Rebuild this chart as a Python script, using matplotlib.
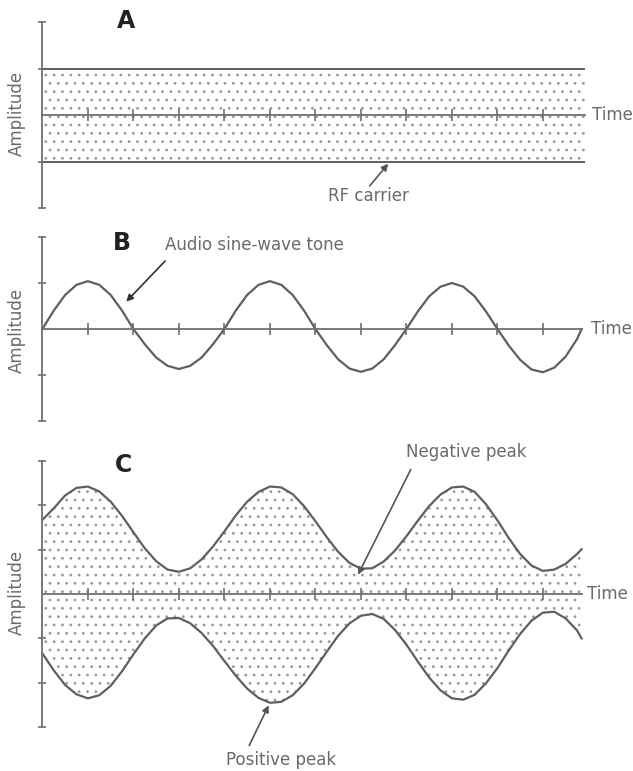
import numpy as np
import matplotlib
matplotlib.use("Agg")
import matplotlib.pyplot as plt

t = np.append(np.arange(0.0, 12.0, 0.25), 11.85)
time_ticks = list(range(1, 12))

# A - unmodulated RF carrier
carrier_level = 1.0
carrier_end = 11.93

# B - audio sine-wave tone
tone = [0.00, 0.40, 0.74, 0.96, 1.04, 0.96, 0.74, 0.40,
        0.00, -0.33, -0.62, -0.80, -0.87, -0.80, -0.62, -0.33,
        0.00, 0.40, 0.74, 0.96, 1.04, 0.96, 0.74, 0.40,
        0.00, -0.35, -0.66, -0.86, -0.93, -0.86, -0.66, -0.35,
        0.00, 0.38, 0.71, 0.92, 1.00, 0.92, 0.71, 0.38,
        0.00, -0.36, -0.67, -0.88, -0.94, -0.84, -0.60, -0.22, 0.00]

# C - modulated carrier, upper and lower envelope
env_upper = [1.67, 1.93, 2.22, 2.39, 2.42, 2.31, 2.08, 1.76, 1.39, 1.03, 0.74, 0.55,
             0.50, 0.58, 0.78, 1.07, 1.41, 1.77, 2.08, 2.30, 2.42, 2.40, 2.25, 1.98,
             1.64, 1.28, 0.95, 0.70, 0.57, 0.58, 0.73, 0.98, 1.30, 1.65, 1.98, 2.24,
             2.40, 2.42, 2.30, 2.02, 1.66, 1.26, 0.90, 0.64, 0.52, 0.55, 0.68, 0.90, 1.01]
env_lower = [-1.34, -1.72, -2.05, -2.26, -2.35, -2.28, -2.07, -1.74, -1.36, -1.00, -0.71, -0.55,
             -0.54, -0.66, -0.88, -1.17, -1.51, -1.84, -2.13, -2.34, -2.45, -2.43, -2.28, -2.02,
             -1.67, -1.30, -0.94, -0.66, -0.49, -0.45, -0.56, -0.81, -1.14, -1.52, -1.88, -2.17,
             -2.35, -2.38, -2.27, -2.01, -1.67, -1.27, -0.90, -0.60, -0.42, -0.40, -0.55, -0.82, -1.00]

W, H = 633, 771
X0, XU = 42.4, 45.5          # pixel of t=0 and pixels per tick
LINE = '#5f5f5f'
AXC = '#707070'
TXT = '#6a6a6a'
DOT = '#9a9a9a'

plt.rcParams['font.family'] = 'DejaVu Sans'
plt.rcParams['hatch.color'] = DOT
plt.rcParams['hatch.linewidth'] = 0.8

fig = plt.figure(figsize=(W / 100, H / 100), dpi=100)


def panel(top, bottom, zero, unit, yticks, ybound, xend):
    ax = fig.add_axes([0, 1 - bottom / H, 1, (bottom - top) / H])
    ax.patch.set_visible(False)
    ax.set_xlim(-X0 / XU, (W - X0) / XU)
    ax.set_ylim(-(bottom - zero) / unit, (zero - top) / unit)
    ax.spines['top'].set_visible(False)
    ax.spines['right'].set_visible(False)
    ax.spines['left'].set_position(('data', 0))
    ax.spines['left'].set_bounds(-ybound, ybound)
    ax.spines['bottom'].set_position(('data', 0))
    ax.spines['bottom'].set_bounds(0, xend)
    for s in ['left', 'bottom']:
        ax.spines[s].set_color(AXC)
        ax.spines[s].set_linewidth(1.3)
    ax.set_xticks(time_ticks)
    ax.set_xticklabels([])
    ax.set_yticks(yticks)
    ax.set_yticklabels([])
    ax.tick_params(axis='x', direction='inout', length=8.5, width=1.2, color=AXC)
    ax.tick_params(axis='y', direction='inout', length=6, width=1.2, color=AXC)
    return ax


def fpx(x, y):
    return x / W, 1 - y / H


def label(x, y, s, **kw):
    fig.text(*fpx(x, y), s, color=TXT, fontsize=12, **kw)


ARROW = dict(arrowstyle='-|>', color='#555555', lw=1.2, mutation_scale=10)

# ---- A ----
axa = panel(0, 225, 115, 46.5, [-2, -1, 1, 2], 2, carrier_end)
axa.fill_between([0, carrier_end], -carrier_level, carrier_level,
                 facecolor='none', edgecolor=DOT, hatch='..', linewidth=0)
axa.hlines([-carrier_level, carrier_level], 0, carrier_end, color=LINE, lw=1.4)
axa.annotate('', xy=(7.64, -carrier_level), xycoords='data',
             xytext=fpx(368, 188), textcoords='figure fraction', arrowprops=ARROW)

# ---- B ----
axb = panel(225, 440, 329, 46, [-2, -1, 1, 2], 2, t[-1])
axb.plot(t, tone, color=LINE, lw=1.6, solid_joinstyle='round')
axb.annotate('', xy=(1.80, 0.55), xycoords='data',
             xytext=fpx(167, 259), textcoords='figure fraction',
             arrowprops=dict(ARROW, color='#333333'))

# ---- C ----
axc = panel(440, 771, 594, 44.4, [-3, -2, -1, 1, 2, 3], 3, t[-1])
axc.fill_between(t, env_lower, env_upper, facecolor='none', edgecolor=DOT,
                 hatch='..', linewidth=0)
axc.plot(t, env_upper, color=LINE, lw=1.6, solid_joinstyle='round')
axc.plot(t, env_lower, color=LINE, lw=1.6, solid_joinstyle='round')
axc.annotate('', xy=(6.91, 0.38), xycoords='data',
             xytext=fpx(412, 467), textcoords='figure fraction', arrowprops=ARROW)
axc.annotate('', xy=(5.0, -2.45), xycoords='data',
             xytext=fpx(248, 748), textcoords='figure fraction', arrowprops=ARROW)

# panel letters
for x, y, s in [(117, 28, 'A'), (113, 250, 'B'), (115, 472, 'C')]:
    fig.text(*fpx(x, y), s, fontsize=17, fontweight='bold', color='#222222',
             va='baseline')

# axis titles
for yc in [113, 330, 592]:
    label(17, yc, 'Amplitude', rotation=90, ha='center', va='center')
for x, yc in [(592, 115), (591, 329), (587, 594)]:
    label(x, yc, 'Time', ha='left', va='center')

label(368, 196, 'RF carrier', ha='center', va='center')
label(165, 245, 'Audio sine-wave tone', ha='left', va='center')
label(406, 452, 'Negative peak', ha='left', va='center')
label(226, 760, 'Positive peak', ha='left', va='center')

fig.savefig('out.png', dpi=100)
